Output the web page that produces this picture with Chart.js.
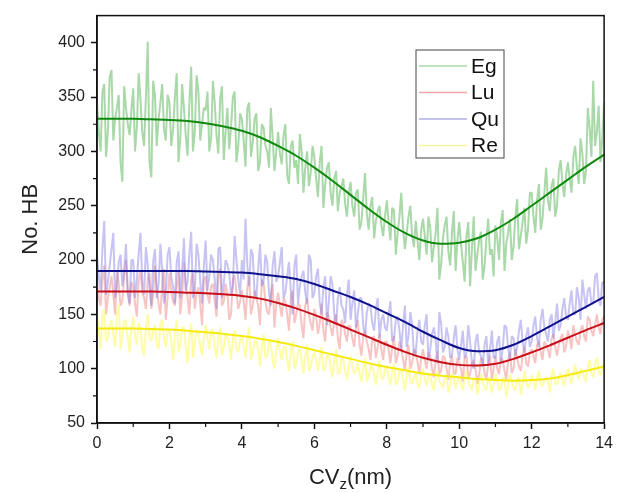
<!DOCTYPE html>
<html>
<head>
<meta charset="utf-8">
<script src="https://cdn.jsdelivr.net/npm/chart.js@4.4.1/dist/chart.umd.min.js"></script>
<style>
  html, body { margin: 0; padding: 0; background: #fff; }
</style>
</head>
<body>
<canvas id="chartHB" width="618" height="493"></canvas>
<script>
// raw series, read at x = 0, 0.1, ... 14
const egRaw = [
  345, 300, 362, 318, 375, 330, 352, 272, 340, 315,
  358, 322, 348, 305, 401, 276, 352, 330, 362, 310,
  345, 320, 372, 312, 340, 296, 378, 318, 355, 325,
  338, 300, 365, 315, 348, 292, 340, 322, 355, 305,
  330, 286, 345, 308, 335, 290, 322, 300, 340, 282,
  318, 288, 325, 270, 310, 292, 316, 262, 300, 280,
  295, 258, 305, 270, 290, 250, 282, 262, 275, 240,
  272, 240, 265, 235, 280, 228, 258, 236, 250, 222,
  255, 218, 246, 225, 262, 210, 240, 222, 236, 200,
  238, 205, 230, 212, 248, 196, 232, 208, 225, 190,
  235, 198, 222, 176, 240, 205, 226, 195, 238, 210,
  232, 200, 246, 215, 238, 212, 256, 222, 248, 228,
  262, 225, 270, 238, 285, 245, 275, 250, 292, 258,
  290, 262, 305, 270, 298, 282, 322, 365, 318, 290,
  345
];
// ... and in between, at x = 0.05, 0.15, ... 13.95
const egRawMid = [
  318, 355, 295, 368, 310, 340, 290, 360, 325, 338,
  300, 372, 318, 350, 290, 365, 305, 345, 320, 352,
  305, 350, 290, 362, 315, 345, 300, 370, 310, 340,
  355, 312, 345, 298, 360, 318, 302, 350, 290, 335,
  310, 340, 295, 330, 282, 325, 305, 285, 312, 300,
  298, 315, 278, 305, 285, 270, 300, 285, 268, 305,
  275, 290, 248, 285, 262, 275, 245, 268, 252, 262,
  250, 262, 228, 258, 242, 250, 220, 245, 232, 240,
  235, 248, 205, 240, 230, 225, 250, 212, 218, 228,
  222, 240, 198, 225, 182, 220, 240, 195, 245, 218,
  215, 180, 235, 210, 190, 218, 182, 220, 205, 185,
  220, 235, 190, 225, 200, 240, 210, 235, 215, 262,
  240, 255, 228, 262, 255, 268, 240, 282, 270, 278,
  275, 295, 285, 312, 270, 340, 295, 305, 342, 312
];
const luRaw = [
  180, 158, 195, 165, 185, 150, 178, 162, 200, 158,
  175, 148, 190, 165, 182, 155, 195, 160, 178, 145,
  188, 162, 176, 150, 198, 165, 182, 155, 175, 140,
  185, 160, 178, 148, 192, 162, 170, 150, 186, 155,
  172, 145, 185, 158, 165, 140, 178, 152, 168, 138,
  170, 148, 162, 135, 172, 150, 158, 128, 165, 142,
  155, 132, 160, 125, 148, 130, 150, 118, 142, 125,
  138, 120, 145, 112, 135, 118, 128, 110, 132, 108,
  125, 105, 130, 112, 120, 98, 122, 105, 115, 95,
  118, 100, 112, 92, 116, 98, 110, 90, 112, 95,
  105, 88, 112, 95, 108, 86, 110, 96, 104, 90,
  112, 95, 108, 90, 115, 100, 110, 98, 120, 102,
  118, 105, 125, 108, 122, 110, 132, 112, 128, 115,
  135, 118, 132, 122, 140, 125, 145, 130, 150, 132,
  148
];
const luRawMid = [
  165, 182, 150, 175, 168, 190, 158, 185, 170, 180,
  160, 182, 170, 155, 188, 168, 172, 150, 192, 165,
  170, 158, 190, 168, 176, 150, 188, 170, 160, 182,
  168, 176, 162, 185, 158, 178, 145, 182, 170, 162,
  162, 175, 150, 172, 158, 182, 162, 150, 178, 160,
  158, 165, 150, 165, 142, 160, 140, 158, 150, 135,
  148, 142, 135, 152, 138, 145, 128, 145, 132, 140,
  128, 138, 122, 130, 125, 108, 130, 120, 118, 125,
  118, 120, 105, 125, 108, 115, 100, 118, 106, 110,
  108, 115, 100, 108, 95, 112, 100, 105, 96, 110,
  100, 110, 92, 105, 100, 95, 108, 90, 112, 100,
  100, 110, 98, 108, 96, 118, 102, 112, 105, 115,
  112, 122, 115, 125, 118, 128, 120, 122, 132, 120,
  128, 140, 125, 135, 130, 148, 135, 140, 138, 145
];
const quRaw = [
  205, 172, 236, 180, 210, 165, 198, 176, 215, 160,
  200, 182, 225, 168, 195, 158, 210, 178, 190, 170,
  212, 175, 198, 165, 220, 180, 226, 172, 205, 160,
  218, 185, 200, 155, 212, 178, 196, 168, 222, 182,
  200, 238, 176, 205, 165, 215, 180, 198, 158, 208,
  185, 212, 170, 198, 150, 205, 176, 190, 160, 200,
  170, 192, 150, 185, 162, 178, 140, 175, 155, 168,
  145, 172, 150, 165, 130, 160, 142, 155, 128, 150,
  135, 162, 128, 148, 118, 158, 130, 140, 115, 145,
  122, 150, 118, 138, 105, 142, 120, 130, 112, 140,
  108, 135, 115, 125, 100, 132, 112, 122, 105, 135,
  110, 130, 118, 138, 108, 128, 120, 145, 115, 138,
  125, 148, 120, 155, 132, 145, 128, 160, 140, 165,
  145, 172, 150, 165, 182, 155, 175, 160, 188, 158,
  178
];
const quRawMid = [
  185, 210, 168, 195, 225, 175, 205, 190, 170, 200,
  165, 205, 180, 212, 175, 198, 165, 215, 160, 205,
  185, 160, 208, 190, 172, 205, 165, 215, 180, 195,
  172, 205, 182, 210, 165, 200, 188, 175, 200, 168,
  182, 195, 210, 170, 192, 176, 205, 170, 195, 180,
  198, 165, 185, 172, 195, 160, 185, 170, 205, 165,
  185, 160, 175, 140, 185, 150, 165, 158, 142, 182,
  160, 138, 165, 140, 152, 158, 135, 165, 145, 138,
  150, 125, 145, 135, 140, 120, 152, 112, 135, 125,
  140, 108, 132, 126, 152, 115, 138, 110, 128, 118,
  122, 110, 140, 105, 125, 115, 102, 130, 118, 110,
  125, 105, 140, 120, 130, 112, 135, 125, 130, 120,
  140, 128, 145, 138, 125, 150, 142, 135, 155, 148,
  160, 150, 175, 145, 168, 172, 160, 185, 165, 180
];
const reRaw = [
  150, 118, 155, 128, 145, 120, 160, 130, 142, 115,
  148, 122, 138, 112, 150, 125, 140, 118, 145, 120,
  135, 108, 145, 122, 138, 105, 142, 125, 132, 112,
  140, 118, 135, 110, 138, 120, 128, 108, 135, 115,
  130, 110, 138, 115, 125, 102, 132, 112, 122, 100,
  128, 108, 120, 98, 125, 105, 118, 95, 122, 102,
  115, 98, 120, 100, 112, 92, 118, 96, 108, 90,
  112, 95, 105, 88, 110, 92, 102, 85, 108, 90,
  100, 85, 105, 88, 98, 80, 102, 86, 96, 82,
  100, 84, 95, 80, 98, 86, 92, 78, 96, 82,
  94, 80, 98, 84, 90, 76, 95, 82, 92, 78,
  96, 80, 92, 74, 95, 82, 90, 76, 98, 82,
  94, 80, 98, 84, 92, 78, 100, 86, 96, 84,
  100, 86, 104, 90, 98, 88, 108, 92, 110, 94,
  105
];
const reRawMid = [
  135, 148, 125, 140, 132, 150, 118, 145, 128, 138,
  130, 142, 118, 138, 128, 135, 122, 142, 128, 135,
  125, 132, 115, 138, 120, 130, 110, 136, 120, 130,
  128, 136, 120, 130, 112, 132, 122, 128, 118, 126,
  120, 128, 108, 125, 118, 120, 110, 125, 108, 118,
  115, 120, 108, 118, 100, 115, 108, 112, 98, 110,
  108, 110, 98, 112, 102, 108, 95, 110, 98, 102,
  102, 98, 95, 100, 88, 102, 95, 98, 92, 100,
  92, 96, 85, 98, 90, 95, 88, 92, 85, 95,
  90, 95, 85, 92, 88, 82, 95, 85, 90, 88,
  85, 92, 88, 80, 92, 86, 88, 80, 90, 85,
  88, 82, 90, 84, 88, 80, 92, 85, 88, 86,
  88, 92, 85, 90, 88, 94, 86, 92, 90, 95,
  92, 96, 95, 100, 92, 102, 96, 104, 98, 100
];

// fitted curves, every 0.5 nm
const egFit = [330, 330, 330, 329.5, 329, 328, 326, 323, 319, 313, 305, 296, 285, 273, 260, 247, 235, 225, 218, 215, 216, 220, 228, 238, 250, 262, 274, 286, 297];
const luFit = [171, 171, 171, 171, 170.5, 170, 169.5, 168.5, 167, 164.5, 160.5, 155.5, 149.5, 143, 136, 129, 122, 115.5, 110, 106, 103.5, 103, 104.5, 109, 115, 121.5, 128.5, 135.5, 142];
const quFit = [190, 190, 190, 190, 190, 190, 189.5, 189, 188.5, 187, 185, 182.5, 178, 172, 166, 159, 151, 143, 134, 126, 119, 116, 117, 122, 130, 139, 148, 157, 166];
const reFit = [137, 137, 137, 136.5, 136, 135, 133.5, 132, 130, 127.5, 124.5, 121, 117, 113, 109, 105, 101.5, 98.5, 95.5, 93.5, 92, 90.5, 89.5, 89, 89.5, 91, 94, 98, 102];

const seriesNames = ['Eg', 'Lu', 'Qu', 'Re'];
const xTicksMajor = [0, 2, 4, 6, 8, 10, 12, 14];
const yTicksMajor = [50, 100, 150, 200, 250, 300, 350, 400];

const rawColors = ['rgba(160,212,160,0.9)', 'rgba(238,125,125,0.45)', 'rgba(130,122,228,0.45)', 'rgba(255,250,120,0.65)'];
const legendColors = ['#a8d8a8', '#f0a8a8', '#b0b0e0', '#f8f5a0'];
const fitColors = ['#0f8a0f', '#c8101a', '#10128c', '#f5ea10'];

const FONT = "'Liberation Sans', Arial, sans-serif";

function interleave(a, b) {
  const out = [];
  a.forEach((v, i) => {
    out.push({ x: +(i * 0.1).toFixed(2), y: v });
    if (i < b.length) out.push({ x: +(i * 0.1 + 0.05).toFixed(2), y: b[i] });
  });
  return out;
}
function fitPoints(vals) {
  return vals.map((v, i) => ({ x: i * 0.5, y: v }));
}

const raws = [[egRaw, egRawMid], [luRaw, luRawMid], [quRaw, quRawMid], [reRaw, reRawMid]];
const fits = [egFit, luFit, quFit, reFit];

const datasets = [];
raws.forEach((r, i) => {
  datasets.push({
    label: seriesNames[i],
    data: interleave(r[0], r[1]),
    borderColor: rawColors[i],
    borderWidth: 2,
    borderJoinStyle: 'bevel',
    pointRadius: 0,
    tension: 0,
    order: 10 - i
  });
});
fits.forEach((f, i) => {
  datasets.push({
    label: seriesNames[i] + ' fit',
    data: fitPoints(f),
    borderColor: fitColors[i],
    borderWidth: 2,
    pointRadius: 0,
    cubicInterpolationMode: 'monotone',
    order: 4 - i
  });
});

// frame, minor ticks, legend box and x title with subscript
const decor = {
  id: 'decor',
  afterDraw(chart) {
    const { ctx, chartArea: a, scales } = chart;
    ctx.save();
    ctx.strokeStyle = '#111';
    ctx.lineWidth = 1.5;
    ctx.strokeRect(a.left, a.top, a.right - a.left, a.bottom - a.top);

    // minor ticks
    ctx.lineWidth = 1.2;
    ctx.beginPath();
    for (let v = 1; v < 14; v += 2) {
      const px = scales.x.getPixelForValue(v);
      ctx.moveTo(px, a.bottom);
      ctx.lineTo(px, a.bottom + 4);
    }
    for (let v = 75; v < 425; v += 50) {
      const py = scales.y.getPixelForValue(v);
      ctx.moveTo(a.left, py);
      ctx.lineTo(a.left - 4, py);
    }
    ctx.stroke();

    // legend
    const lx = 416, ly = 50, lw = 88, lh = 108;
    ctx.fillStyle = '#fff';
    ctx.fillRect(lx, ly, lw, lh);
    ctx.strokeStyle = '#444';
    ctx.lineWidth = 1;
    ctx.strokeRect(lx, ly, lw, lh);
    ctx.font = '21px ' + FONT;
    ctx.textBaseline = 'middle';
    ctx.textAlign = 'left';
    seriesNames.forEach((n, i) => {
      const y = ly + 16 + i * 26.5;
      ctx.strokeStyle = legendColors[i];
      ctx.lineWidth = 1.5;
      ctx.beginPath();
      ctx.moveTo(lx + 3, y);
      ctx.lineTo(lx + 51, y);
      ctx.stroke();
      ctx.fillStyle = '#111';
      ctx.fillText(n, lx + 55, y + 1);
    });

    // x title: CV_z(nm)
    ctx.fillStyle = '#222';
    ctx.textBaseline = 'alphabetic';
    const big = '22px ' + FONT, small = '15px ' + FONT;
    ctx.font = big;
    const w1 = ctx.measureText('CV').width;
    const w3 = ctx.measureText('(nm)').width;
    ctx.font = small;
    const w2 = ctx.measureText('z').width;
    const cx = (a.left + a.right) / 2;
    let x0 = cx - (w1 + w2 + w3) / 2;
    const base = 484;
    ctx.font = big;
    ctx.fillText('CV', x0, base);
    ctx.font = small;
    ctx.fillText('z', x0 + w1, base + 5);
    ctx.font = big;
    ctx.fillText('(nm)', x0 + w1 + w2, base);
    ctx.restore();
  }
};

new Chart(document.getElementById('chartHB'), {
  type: 'line',
  data: { datasets },
  options: {
    responsive: false,
    animation: false,
    layout: { padding: { left: 0, top: 12, right: 11, bottom: 0 } },
    plugins: { legend: { display: false }, tooltip: { enabled: false } },
    scales: {
      x: {
        type: 'linear',
        min: 0,
        max: 14,
        afterBuildTicks: s => { s.ticks = xTicksMajor.map(v => ({ value: v })); },
        afterFit: s => { s.height = 70; },
        ticks: { color: '#222', font: { size: 16, family: FONT }, padding: 5, maxRotation: 0 },
        grid: { drawOnChartArea: false, tickLength: 6, color: '#111', tickWidth: 1.5 },
        border: { color: '#111', width: 1.5 }
      },
      y: {
        min: 50,
        max: 425,
        afterBuildTicks: s => { s.ticks = yTicksMajor.map(v => ({ value: v })); },
        afterFit: s => { s.width = 97; },
        ticks: { color: '#222', font: { size: 16, family: FONT }, padding: 6 },
        grid: { drawOnChartArea: false, tickLength: 6, color: '#111', tickWidth: 1.5 },
        border: { color: '#111', width: 1.5 },
        title: { display: true, text: 'No. HB', color: '#222', font: { size: 22, family: FONT }, padding: { top: 18 } }
      }
    }
  },
  plugins: [decor]
});
</script>
</body>
</html>
